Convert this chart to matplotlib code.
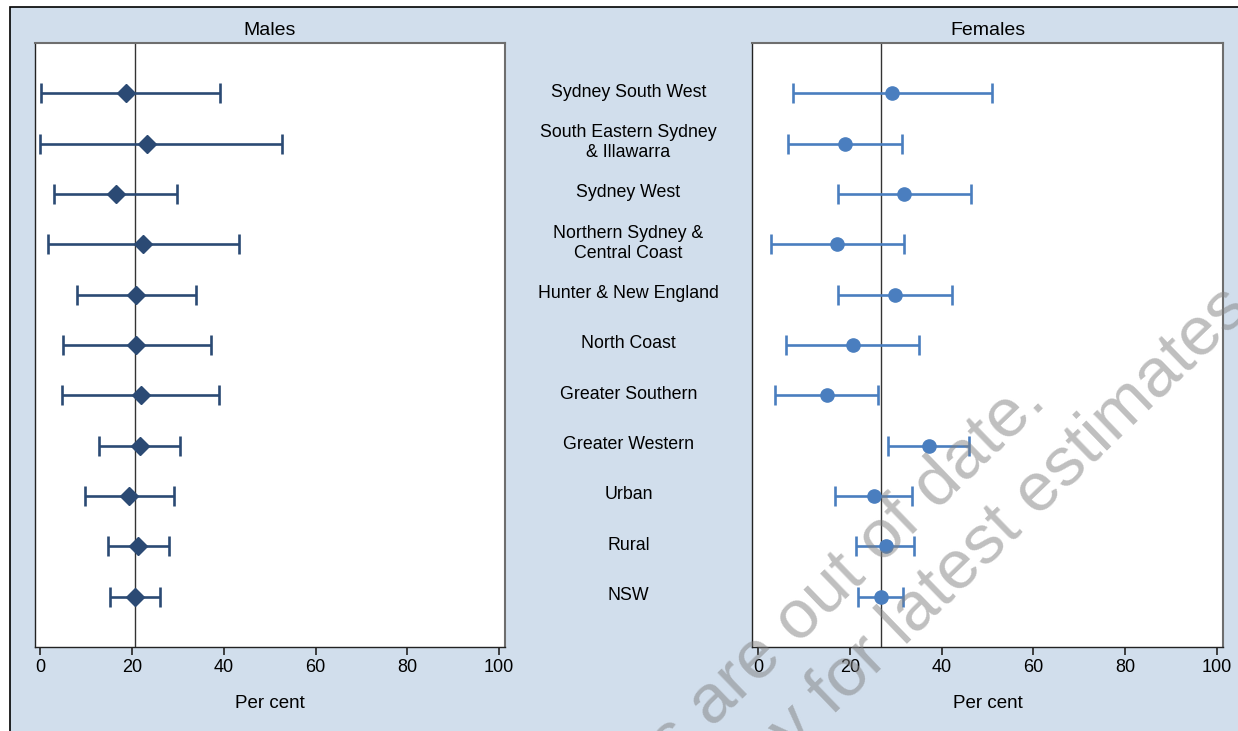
import matplotlib
matplotlib.use("Agg")
import matplotlib.pyplot as plt
import matplotlib.patches as patches
from matplotlib.transforms import blended_transform_factory

plt.rcParams['font.family'] = ['Liberation Sans', 'DejaVu Sans']

# Areas, top to bottom
areas = ["Sydney South West", "South Eastern Sydney\n& Illawarra", "Sydney West",
         "Northern Sydney &\nCentral Coast", "Hunter & New England", "North Coast",
         "Greater Southern", "Greater Western", "Urban", "Rural", "NSW"]

# Males: estimate and 95% CI (per cent)
male_est = [18.7, 23.3, 16.5, 22.5, 20.9, 20.9, 21.9, 21.7, 19.3, 21.4, 20.6]
male_lo = [0.1, 0.0, 2.9, 1.7, 8.0, 4.9, 4.8, 12.9, 9.7, 14.7, 15.1]
male_hi = [39.2, 52.7, 29.9, 43.4, 34.0, 37.2, 38.9, 30.4, 29.1, 28.0, 26.1]

# Females
female_est = [29.3, 18.9, 31.9, 17.2, 29.8, 20.7, 15.0, 37.2, 25.2, 27.8, 26.8]
female_lo = [7.6, 6.6, 17.4, 2.8, 17.4, 6.0, 3.8, 28.4, 16.8, 21.4, 21.7]
female_hi = [51.1, 31.3, 46.4, 31.9, 42.3, 35.0, 26.1, 46.1, 33.5, 33.9, 31.7]

xticks = [0, 20, 40, 60, 80, 100]

bg = '#d1deec'
W, H = 1238, 731
fig = plt.figure(figsize=(W / 100, H / 100), dpi=100)
fig.patch.set_facecolor('white')

# light blue graph region with black outline (top/left edges visible)
frame = patches.Rectangle((9.5 / W, -0.02), 1.05, 1 - 7 / H + 0.02, transform=fig.transFigure,
                          facecolor=bg, edgecolor='black', linewidth=1.2, zorder=-10)
fig.add_artist(frame)

ax_top = 1 - 43 / H
ax_h = (647 - 43) / H
ax_m = fig.add_axes([34.5 / W, ax_top - ax_h, (505 - 34.5) / W, ax_h])
ax_f = fig.add_axes([752.3 / W, ax_top - ax_h, (1222.7 - 752.3) / W, ax_h])

ypos = list(range(1, len(areas) + 1))


def draw_panel(ax, est, lo, hi, color, marker, ms, title):
    ax.set_facecolor('white')
    xerr = [[e - l for e, l in zip(est, lo)], [h - e for e, h in zip(est, hi)]]
    ax.axvline(est[-1], color='#333333', linewidth=1.0, zorder=1)
    ax.errorbar(est, ypos, xerr=xerr, fmt=marker, color=color, ecolor=color,
                markersize=ms, elinewidth=1.9, capsize=7.5, capthick=1.9, zorder=3)
    ax.set_xlim(-1.25, 101.3)
    ax.set_ylim(12, 0)
    ax.set_yticks([])
    ax.set_xticks(xticks)
    ax.tick_params(axis='x', length=6, width=1.2, labelsize=13, pad=3, color='#222222')
    ax.set_xlabel("Per cent", fontsize=13.5, labelpad=13)
    ax.set_title(title, fontsize=14, pad=6)
    for side in ['left', 'bottom']:
        ax.spines[side].set_color('#222222')
        ax.spines[side].set_linewidth(1.0)
    for side in ['top', 'right']:
        ax.spines[side].set_color('#6e6e6e')
        ax.spines[side].set_linewidth(1.5)


draw_panel(ax_m, male_est, male_lo, male_hi, '#2b4a74', 'D', 9.5, "Males")
draw_panel(ax_f, female_est, female_lo, female_hi, '#4a7ebf', 'o', 9.5, "Females")

# area labels between the panels
tr = blended_transform_factory(fig.transFigure, ax_m.transData)
for y, name in zip(ypos, areas):
    ax_m.text(628.5 / W, y - 0.02, name, transform=tr, ha='center', va='center',
              fontsize=12.8, linespacing=1.2, clip_on=False)

# watermark
wm_kw = dict(fontsize=50, color='#808080', alpha=0.5, rotation=44,
             rotation_mode='anchor', ha='center', va='center', zorder=20)
fig.text(848 / W, 1 - 572 / H, "s are out of date.", **wm_kw)
fig.text(1010 / W, 1 - 520 / H, "y for latest estimates", **wm_kw)

fig.savefig("out.png", dpi=100, facecolor=fig.get_facecolor())
